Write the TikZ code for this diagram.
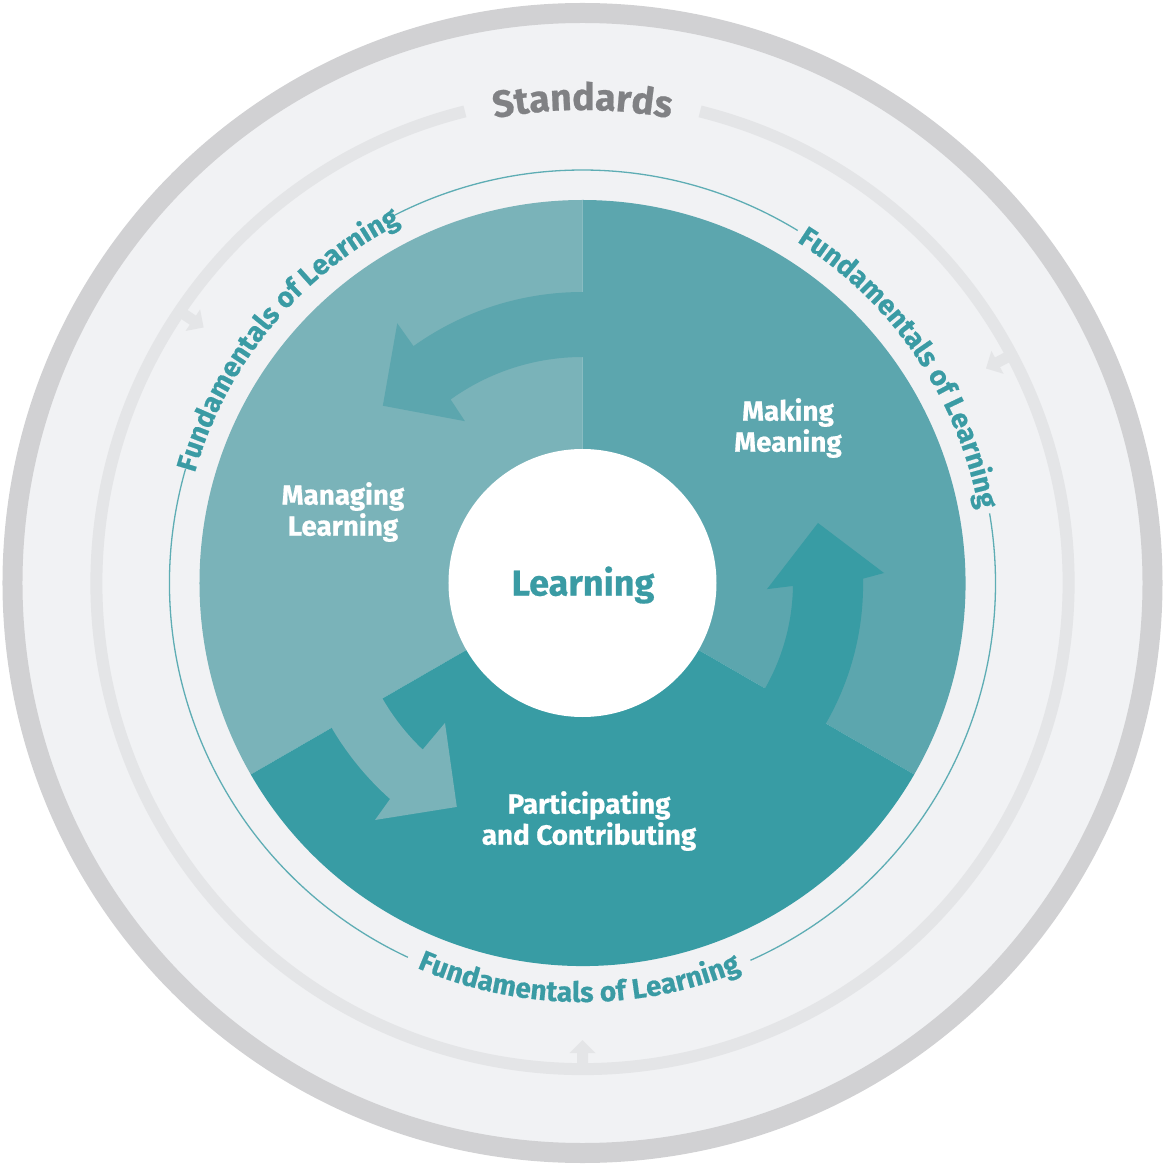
\documentclass[tikz,border=0pt]{standalone}
\usepackage{fontspec}
\setmainfont{Fira Sans}
\newfontfamily\labfont[BoldFeatures={FakeBold=0.6}]{Fira Sans}
\usetikzlibrary{decorations.text}
\definecolor{outerring}{HTML}{D1D1D3}
\definecolor{bggray}{HTML}{F1F2F4}
\definecolor{ringgray}{HTML}{E4E5E7}
\definecolor{thinteal}{HTML}{5EADB4}
\definecolor{manage}{HTML}{7AB3B9}
\definecolor{making}{HTML}{5CA6AE}
\definecolor{partic}{HTML}{389CA4}
\definecolor{txteal}{HTML}{3A9BA4}
\definecolor{stdgray}{HTML}{808184}
\newcommand{\fundstyle}{\labfont\bfseries\fontsize{28}{30}\selectfont\color{txteal}}
\newcommand{\stdstyle}{\labfont\bfseries\fontsize{37.5}{42}\selectfont\color{stdgray}}
\tikzset{
  lab/.style={text=white, font=\labfont\bfseries\fontsize{27.8}{31}\selectfont, align=center, inner sep=0pt},
  center lab/.style={text=txteal, font=\labfont\bfseries\fontsize{36}{40}\selectfont, inner sep=0pt},
  tealarc/.style={thinteal, line width=1.3pt},
  smallarrow/.style={fill=ringgray}
}
\begin{document}
\begin{tikzpicture}[x=1pt,y=1pt]
\useasboundingbox (-582.5,-581) rectangle (581.5,583);
% background and outer ring
\fill[bggray] (0,0) circle[radius=570];
\draw[outerring, line width=20pt] (0,0) circle[radius=570];
% light gray ring with gap for Standards
\draw[ringgray, line width=12pt] (76:486) arc[start angle=76, end angle=-256, radius=486];
\foreach \a in {28,146,270}
  \fill[smallarrow, rotate=\a] (487,-5.5) -- (470,-5.5) -- (470,-13) -- (457,0) -- (470,13) -- (470,5.5) -- (487,5.5) -- cycle;
% thin teal circle with gaps
\draw[tealarc] (58.6:413) arc[start angle=58.6, end angle=117, radius=413];
\draw[tealarc] (164:413) arc[start angle=164, end angle=245, radius=413];
\draw[tealarc] (294:413) arc[start angle=294, end angle=369.7, radius=413];
% sectors
\fill[manage] (0,0) -- (90:383) arc[start angle=90, end angle=210, radius=383] -- cycle;
\fill[making] (0,0) -- (-30:383) arc[start angle=-30, end angle=90, radius=383] -- cycle;
\fill[partic] (0,0) -- (210:383) arc[start angle=210, end angle=330, radius=383] -- cycle;
% curved arrows
\fill[making] (89.8:291) arc[start angle=89.8, end angle=125.5, radius=291] -- (125.5:319) -- (138.4:267) -- (126:200) -- (125.7:226) arc[start angle=125.7, end angle=89.8, radius=226] -- cycle;
\fill[partic] (-30.2:281) arc[start angle=-30.2, end angle=1.2, radius=278] -- (1.9:301.7) -- (14.3:243) -- (-1.9:184.6) -- (-0.8:210.5) arc[start angle=-0.8, end angle=-30.2, radius=213] -- cycle;
\fill[manage] (209.8:231) arc[start angle=209.8, end angle=226.4, radius=228] -- (225.5:196.2) -- (240.7:256.8) -- (228.8:315) -- (228.3:289.3) arc[start angle=228.3, end angle=209.8, radius=296] -- cycle;
% white centre
\fill[white] (0,0) circle[radius=134];
% labels
\node[center lab] (learn) at (0.5,-2) {Learning};
\node[lab] (mm) at (205.5,155) {Making\\Meaning};
\node[lab] (ml) at (-239.5,71) {Managing\\Learning};
\node[lab] (pc) at (6.5,-238) {Participating\\and Contributing};
% curved texts
\path[decorate, decoration={text along path, text align=center, text={|\fundstyle|Fundamentals of Learning}}]
  (165.5:403) arc[start angle=165.5, end angle=115.5, radius=403];
\path[decorate, decoration={text along path, text align=center, text={|\fundstyle|Fundamentals of Learning}}]
  (59:403) arc[start angle=59, end angle=9.4, radius=403];
\path[decorate, decoration={text along path, text align=center, text={|\fundstyle|Fundamentals of Learning}}]
  (244.5:419) arc[start angle=244.5, end angle=294.5, radius=419];
\path[decorate, decoration={text along path, text align=center, text={|\stdstyle|Standards}}]
  (110:473) arc[start angle=110, end angle=70, radius=473];
\end{tikzpicture}
\end{document}
